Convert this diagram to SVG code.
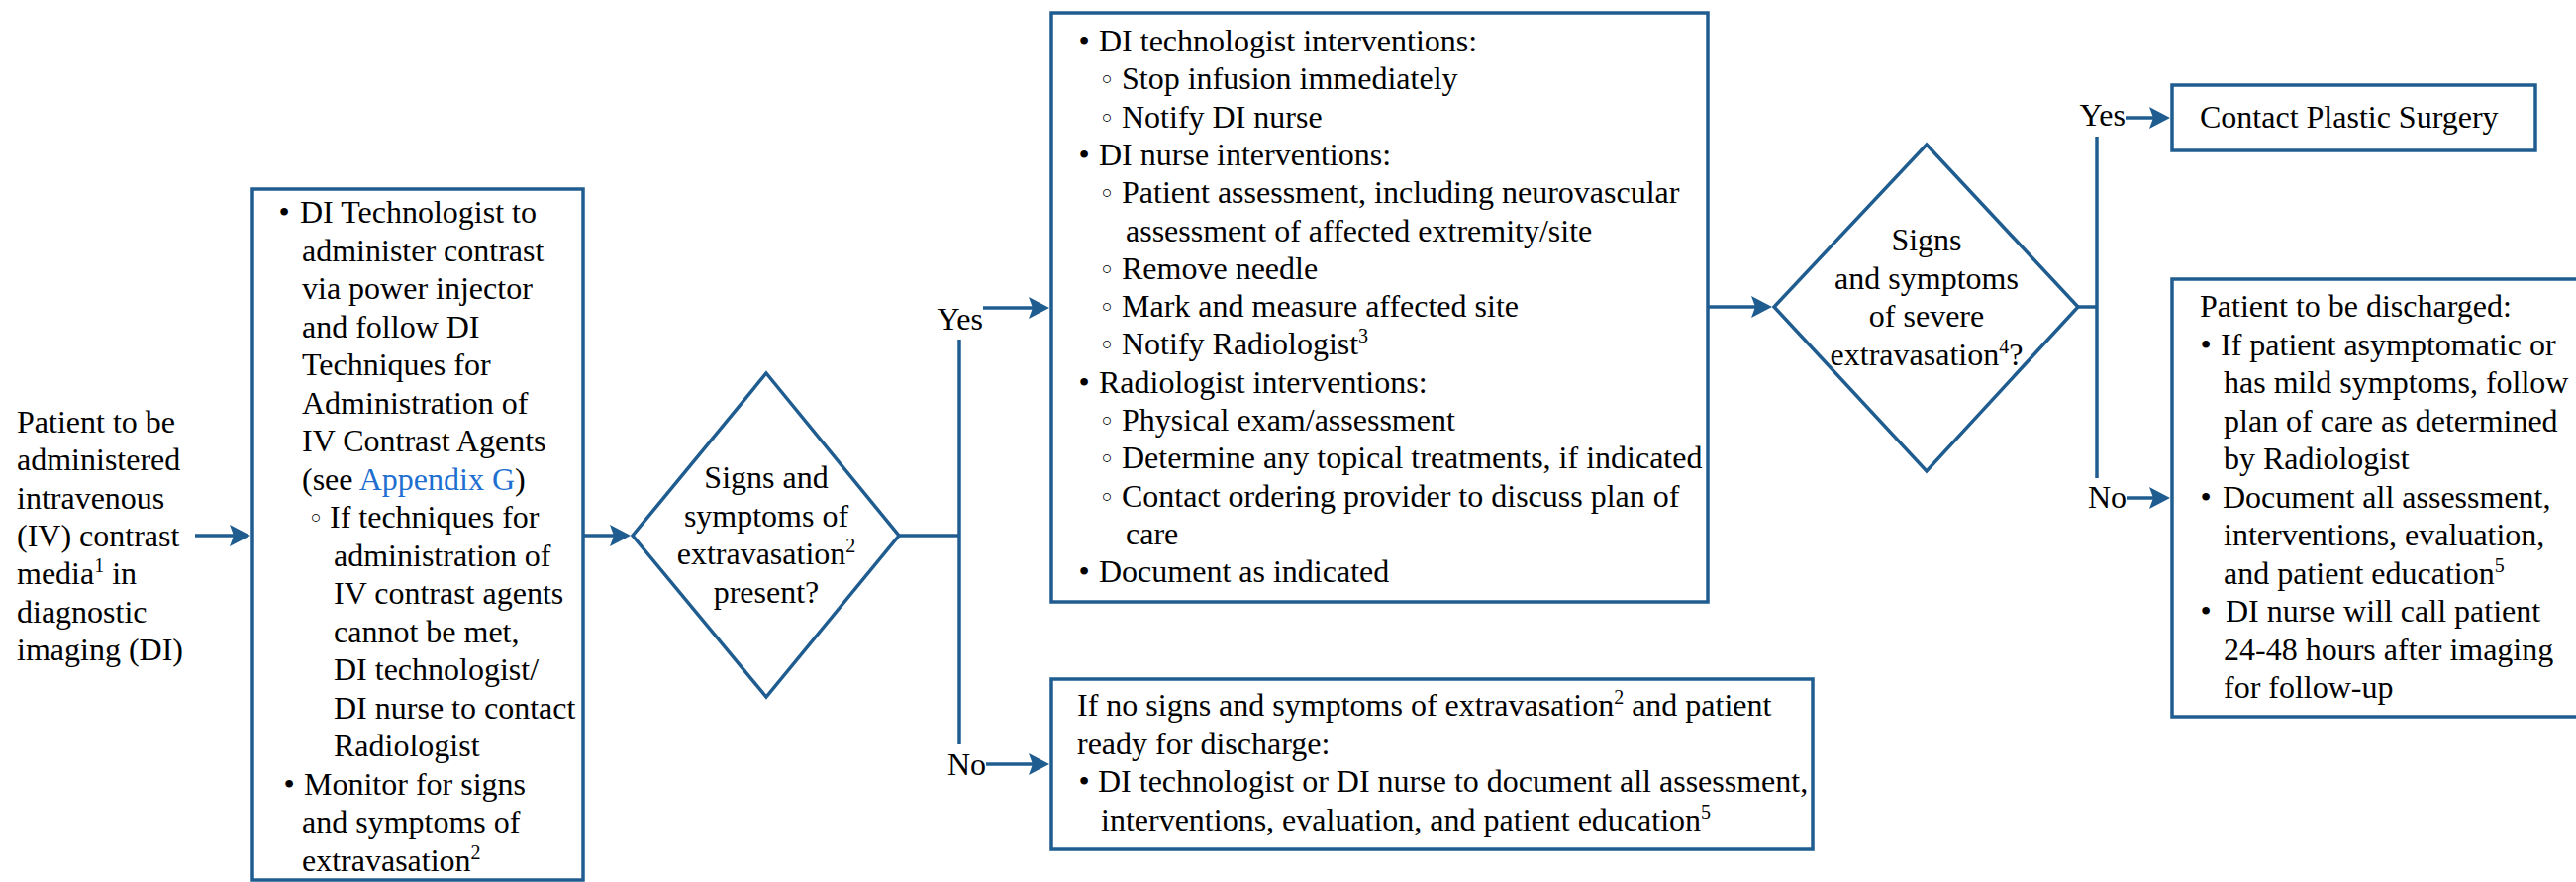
<svg xmlns="http://www.w3.org/2000/svg" width="2602" height="891" viewBox="0 0 2602 891">
<style>
.t{font-family:"Liberation Serif","Times New Roman",serif;font-size:32px;fill:#000}
.m{text-anchor:middle}
.e{text-anchor:end}
.bu{font-family:"Liberation Serif","DejaVu Sans",serif;font-size:32px;fill:#000;text-anchor:middle}
.ri{font-family:"DejaVu Sans","Liberation Serif",sans-serif;font-size:27px;fill:#000;text-anchor:middle}
.sup{font-size:20px}
.link{fill:#1e6fd0}
.box{fill:#fff;stroke:#1f5c8f;stroke-width:3.5}
.ln{fill:none;stroke:#1f5c8f;stroke-width:3.5}
.ar{fill:none;stroke:#1f5c8f;stroke-width:3.5;marker-end:url(#ah)}
</style>
<defs>
<marker id="ah" markerUnits="userSpaceOnUse" markerWidth="24" markerHeight="24" viewBox="0 0 24 24" refX="15" refY="12" orient="auto">
<path d="M0,1 L21,12 L0,23 L4,12 z" fill="#1f5c8f"/>
</marker>
</defs>
<rect width="2602" height="891" fill="#fff"/>

<g id="start">
<text class="t" x="17" y="437">Patient to be</text>
<text class="t" x="17" y="475.3">administered</text>
<text class="t" x="17" y="513.6">intravenous</text>
<text class="t" x="17" y="552">(IV) contrast</text>
<text class="t" x="17" y="590.3">media<tspan class="sup" dy="-12">1</tspan><tspan dy="12"> in</tspan></text>
<text class="t" x="17" y="628.6">diagnostic</text>
<text class="t" x="17" y="667">imaging (DI)</text>
</g>

<g id="administer">
<rect class="box" x="255" y="191" width="334" height="698"/>
<text class="bu" x="287" y="225">•</text>
<text class="t" x="303" y="225">DI Technologist to</text>
<text class="t" x="305" y="263.5">administer contrast</text>
<text class="t" x="305" y="302">via power injector</text>
<text class="t" x="305" y="340.5">and follow DI</text>
<text class="t" x="305" y="379">Techniques for</text>
<text class="t" x="305" y="417.5">Administration of</text>
<text class="t" x="305" y="456">IV Contrast Agents</text>
<text class="t" x="305" y="494.5">(see <tspan class="link">Appendix G</tspan>)</text>
<text class="ri" x="319" y="533">◦</text>
<text class="t" x="333" y="533">If techniques for</text>
<text class="t" x="337" y="571.5">administration of</text>
<text class="t" x="337" y="610">IV contrast agents</text>
<text class="t" x="337" y="648.5">cannot be met,</text>
<text class="t" x="337" y="687">DI technologist/</text>
<text class="t" x="337" y="725.5">DI nurse to contact</text>
<text class="t" x="337" y="764">Radiologist</text>
<text class="bu" x="292" y="802.5">•</text>
<text class="t" x="307" y="802.5">Monitor for signs</text>
<text class="t" x="305" y="841">and symptoms of</text>
<text class="t" x="305" y="879.5">extravasation<tspan class="sup" dy="-12">2</tspan></text>
</g>

<g id="decision1">
<polygon class="box" points="774,377 908,541 774,704 639,541"/>
<text class="t m" x="774" y="493">Signs and</text>
<text class="t m" x="774" y="531.5">symptoms of</text>
<text class="t m" x="774" y="570">extravasation<tspan class="sup" dy="-12">2</tspan></text>
<text class="t m" x="774" y="608.5">present?</text>
</g>

<g id="interventions">
<rect class="box" x="1062" y="13" width="663" height="595"/>
<text class="bu" x="1095" y="52">•</text>
<text class="t" x="1110" y="52">DI technologist interventions:</text>
<text class="ri" x="1118" y="90.3">◦</text>
<text class="t" x="1133" y="90.3">Stop infusion immediately</text>
<text class="ri" x="1118" y="128.6">◦</text>
<text class="t" x="1133" y="128.6">Notify DI nurse</text>
<text class="bu" x="1095" y="166.9">•</text>
<text class="t" x="1110" y="166.9">DI nurse interventions:</text>
<text class="ri" x="1118" y="205.2">◦</text>
<text class="t" x="1133" y="205.2">Patient assessment, including neurovascular</text>
<text class="t" x="1137" y="243.5">assessment of affected extremity/site</text>
<text class="ri" x="1118" y="281.8">◦</text>
<text class="t" x="1133" y="281.8">Remove needle</text>
<text class="ri" x="1118" y="320.1">◦</text>
<text class="t" x="1133" y="320.1">Mark and measure affected site</text>
<text class="ri" x="1118" y="358.4">◦</text>
<text class="t" x="1133" y="358.4">Notify Radiologist<tspan class="sup" dy="-12">3</tspan></text>
<text class="bu" x="1095" y="396.7">•</text>
<text class="t" x="1110" y="396.7">Radiologist interventions:</text>
<text class="ri" x="1118" y="435">◦</text>
<text class="t" x="1133" y="435">Physical exam/assessment</text>
<text class="ri" x="1118" y="473.3">◦</text>
<text class="t" x="1133" y="473.3">Determine any topical treatments, if indicated</text>
<text class="ri" x="1118" y="511.6">◦</text>
<text class="t" x="1133" y="511.6">Contact ordering provider to discuss plan of</text>
<text class="t" x="1137" y="549.9">care</text>
<text class="bu" x="1095" y="588.2">•</text>
<text class="t" x="1110" y="588.2">Document as indicated</text>
</g>

<g id="no-signs">
<rect class="box" x="1062" y="686" width="769" height="172"/>
<text class="t" x="1088" y="723">If no signs and symptoms of extravasation<tspan class="sup" dy="-12">2</tspan><tspan dy="12"> and patient</tspan></text>
<text class="t" x="1088" y="761.5">ready for discharge:</text>
<text class="bu" x="1095" y="800">•</text>
<text class="t" x="1109" y="800">DI technologist or DI nurse to document all assessment,</text>
<text class="t" x="1112" y="838.5">interventions, evaluation, and patient education<tspan class="sup" dy="-12">5</tspan></text>
</g>

<g id="decision2">
<polygon class="box" points="1946,146 2099,310 1946,476 1792,310"/>
<text class="t m" x="1946" y="253">Signs</text>
<text class="t m" x="1946" y="291.5">and symptoms</text>
<text class="t m" x="1946" y="330">of severe</text>
<text class="t m" x="1946" y="368.5">extravasation<tspan class="sup" dy="-12">4</tspan><tspan dy="12">?</tspan></text>
</g>

<g id="plastic-surgery">
<rect class="box" x="2194" y="86" width="367" height="66"/>
<text class="t" x="2222" y="129">Contact Plastic Surgery</text>
</g>

<g id="discharge">
<rect class="box" x="2194" y="282" width="420" height="442"/>
<text class="t" x="2222" y="320">Patient to be discharged:</text>
<text class="bu" x="2228" y="358.5">•</text>
<text class="t" x="2243" y="358.5">If patient asymptomatic or</text>
<text class="t" x="2246" y="397">has mild symptoms, follow</text>
<text class="t" x="2246" y="435.5">plan of care as determined</text>
<text class="t" x="2246" y="474">by Radiologist</text>
<text class="bu" x="2228" y="512.5">•</text>
<text class="t" x="2245" y="512.5">Document all assessment,</text>
<text class="t" x="2246" y="551">interventions, evaluation,</text>
<text class="t" x="2246" y="589.5">and patient education<tspan class="sup" dy="-12">5</tspan></text>
<text class="bu" x="2228" y="628">•</text>
<text class="t" x="2248" y="628">DI nurse will call patient</text>
<text class="t" x="2246" y="666.5">24-48 hours after imaging</text>
<text class="t" x="2246" y="705">for follow-up</text>
</g>

<g id="connectors">
<line class="ar" x1="197" y1="541" x2="247" y2="541"/>
<line class="ar" x1="589" y1="541" x2="631" y2="541"/>
<polyline class="ln" points="908,541 969,541"/>
<line class="ln" x1="969" y1="343" x2="969" y2="752"/>
<line class="ar" x1="993" y1="311" x2="1054" y2="311"/>
<line class="ar" x1="996" y1="772" x2="1054" y2="772"/>
<line class="ar" x1="1725" y1="310" x2="1784" y2="310"/>
<polyline class="ln" points="2099,310 2118,310"/>
<line class="ln" x1="2118" y1="138" x2="2118" y2="483"/>
<line class="ar" x1="2147" y1="119" x2="2186" y2="119"/>
<line class="ar" x1="2148" y1="503" x2="2186" y2="503"/>
<text class="t e" x="993" y="333">Yes</text>
<text class="t e" x="996" y="783">No</text>
<text class="t e" x="2147" y="127">Yes</text>
<text class="t e" x="2148" y="513">No</text>
</g>
</svg>
